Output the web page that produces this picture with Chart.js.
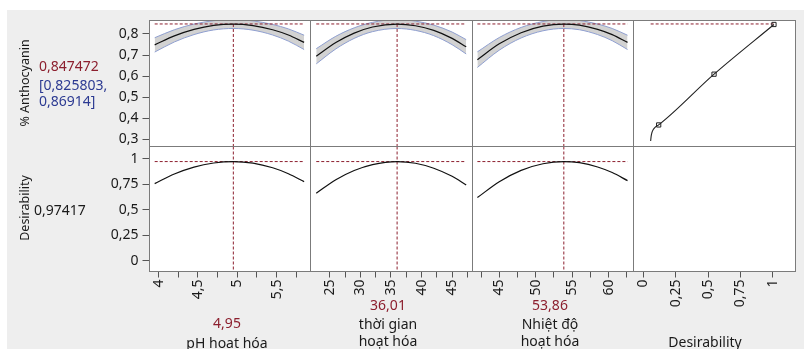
<!DOCTYPE html>
<html>
<head>
<meta charset="utf-8">
<script src="https://cdn.jsdelivr.net/npm/chart.js@4.4.0/dist/chart.umd.min.js"></script>
<style>
html,body{margin:0;padding:0;background:#fff;}
#wrap{position:relative;width:804px;height:349px;overflow:hidden;background:#fff;font-family:"Noto Sans",sans-serif;}
#bg{position:absolute;left:7px;top:10px;right:0;bottom:0;background:#eeeeee;}
#plotbg{position:absolute;left:150px;top:21px;width:645px;height:250px;background:#fff;}
canvas{position:absolute;left:0;top:0;}
.t{position:absolute;white-space:nowrap;font-size:14px;line-height:1;color:#1a1a1a;}
.c{transform:translate(-50%,-50%);}
.l{transform:translate(0,-50%);}
.r{transform:translate(-50%,-50%) rotate(-90deg);font-size:12.5px;}
</style>
</head>
<body>
<div id="wrap"><div id="bg"></div><div id="plotbg"></div></div>
<script>
// ---------- data ----------
const factorNames = [['pH hoạt hóa'], ['thời gian', 'hoạt hóa'], ['Nhiệt độ', 'hoạt hóa']];
const currentValues = [4.95, 36.01, 53.86];
const predicted = 0.847472;
const ciLow = 0.825803;
const ciHigh = 0.86914;
const desirability = 0.97417;

const respTicks = [0.3, 0.4, 0.5, 0.6, 0.7, 0.8];
const desTicks = [0, 0.25, 0.5, 0.75, 1];
const phTicks = [4, 4.5, 5, 5.5];
const phMinor = [4.25, 4.75, 5.25, 5.75];
const timeTicks = [25, 30, 35, 40, 45];
const timeMinor = [27.5, 32.5, 37.5, 42.5, 47.5];
const tempTicks = [45, 50, 55, 60];
const tempMinor = [42.5, 47.5, 52.5, 57.5, 62.5];
const desAxisTicks = [0, 0.25, 0.5, 0.75, 1];

const phX     = [3.95, 4.2, 4.45, 4.7, 4.95, 5.2, 5.45, 5.65, 5.85];
const phResp  = [0.748, 0.791, 0.822, 0.841, 0.847, 0.840, 0.820, 0.795, 0.760];
const phUpper = [0.782, 0.820, 0.847, 0.863, 0.869, 0.862, 0.845, 0.824, 0.794];
const phLower = [0.714, 0.762, 0.797, 0.819, 0.826, 0.818, 0.795, 0.766, 0.726];
const phDes   = [0.757, 0.852, 0.920, 0.960, 0.974, 0.959, 0.913, 0.855, 0.777];

const timeX     = [22.8, 26, 29, 32, 36.01, 39, 42, 45, 47.3];
const timeResp  = [0.694, 0.759, 0.804, 0.833, 0.847, 0.839, 0.817, 0.779, 0.739];
const timeUpper = [0.730, 0.789, 0.829, 0.855, 0.869, 0.861, 0.842, 0.809, 0.773];
const timeLower = [0.658, 0.729, 0.779, 0.811, 0.826, 0.817, 0.792, 0.749, 0.705];
const timeDes   = [0.663, 0.796, 0.887, 0.945, 0.974, 0.958, 0.909, 0.829, 0.744];

const tempX     = [42, 45, 48, 51, 53.86, 56, 58.5, 60.5, 62.6];
const tempResp  = [0.678, 0.753, 0.806, 0.837, 0.847, 0.842, 0.822, 0.797, 0.760];
const tempUpper = [0.715, 0.783, 0.831, 0.859, 0.869, 0.864, 0.847, 0.826, 0.794];
const tempLower = [0.641, 0.723, 0.781, 0.815, 0.826, 0.820, 0.797, 0.768, 0.726];
const tempDes   = [0.620, 0.776, 0.888, 0.953, 0.974, 0.963, 0.921, 0.866, 0.787];

const desFnD    = [0.056, 0.060, 0.066, 0.076, 0.092, 0.118, 0.546, 1.009];
const desFnResp = [0.292, 0.315, 0.332, 0.346, 0.358, 0.368, 0.609, 0.845];
const markerD    = [0.118, 0.546, 1.009];
const markerResp = [0.368, 0.609, 0.845];

// ---------- styling / layout ----------
const RED = '#8c1f2e';
const BLUE = '#2c3a92';
const TXT = '#1a1a1a';
const FONT = '"Noto Sans", sans-serif';
const colEdges = [[149.5, 310.5], [310.5, 472.5], [472.5, 633.5], [633.5, 795.5]];
const rowEdges = [[20.5, 146.5], [146.5, 271.5]];
const xRanges = [[3.884, 5.931], [21.86, 48.33], [41.33, 63.42], [-0.0765, 1.1754]];
const yRanges = [[0.2656, 0.8639], [-0.1067, 1.1224]];
const YW = 60, XH = 50;

const fmt = v => String(v).replace('.', ',');
const pts = (xs, ys) => xs.map((x, i) => ({x, y: ys[i]}));
const has = (arr, v) => arr.some(a => Math.abs(a - v) < 1e-9);

const wrap = document.getElementById('wrap');

const framePlugin = {
  id: 'frame',
  afterDatasetsDraw(chart) {
    const {ctx, chartArea: a} = chart;
    ctx.save();
    ctx.strokeStyle = '#7b7b7b';
    ctx.lineWidth = 1;
    ctx.strokeRect(a.left, a.top, a.right - a.left, a.bottom - a.top);
    ctx.restore();
  }
};

function curve(data, color, w) {
  return {data, borderColor: color, borderWidth: w, pointRadius: 0, fill: false,
          cubicInterpolationMode: 'monotone'};
}
function dashed(data) {
  return {data, borderColor: RED, borderWidth: 1, borderDash: [3, 2], pointRadius: 0,
          fill: false, tension: 0};
}

function makeChart(r, c, datasets, xMajor, xMinor, yMajor) {
  const cv = document.createElement('canvas');
  cv.width = 804; cv.height = 349;
  wrap.appendChild(cv);
  const [L, R] = colEdges[c];
  const [T, B] = rowEdges[r];
  const showY = c === 0, showX = r === 1;
  new Chart(cv, {
    type: 'line',
    data: {datasets},
    options: {
      responsive: false, animation: false, devicePixelRatio: 1,
      layout: {padding: {left: showY ? L - YW : L, right: 804 - R, top: T,
                         bottom: showX ? 349 - B - XH : 349 - B}},
      plugins: {legend: {display: false}, tooltip: {enabled: false}, title: {display: false}},
      scales: {
        x: {
          type: 'linear', display: showX, min: xRanges[c][0], max: xRanges[c][1],
          afterFit: s => { s.height = showX ? XH : 0; },
          afterBuildTicks: s => { s.ticks = xMajor.concat(xMinor).sort((a, b) => a - b).map(v => ({value: v})); },
          border: {display: false},
          grid: {drawOnChartArea: false, drawTicks: true, tickLength: 6, color: '#555'},
          ticks: {autoSkip: false, minRotation: 90, maxRotation: 90, padding: 2,
                  color: TXT, font: {family: FONT, size: 14},
                  callback: v => has(xMajor, v) ? fmt(v) : ''}
        },
        y: {
          type: 'linear', display: showY, min: yRanges[r][0], max: yRanges[r][1],
          afterFit: s => { s.width = showY ? YW : 0; },
          afterBuildTicks: s => { s.ticks = yMajor.map(v => ({value: v})); },
          border: {display: false},
          grid: {drawOnChartArea: false, drawTicks: true, tickLength: 7, color: '#555'},
          ticks: {autoSkip: false, padding: 4, color: TXT, font: {family: FONT, size: 14},
                  callback: v => fmt(v)}
        }
      }
    },
    plugins: [framePlugin]
  });
}

function respDatasets(xs, resp, up, lo, cur) {
  const yMin = yRanges[0][0];
  return [
    curve(pts(xs, resp), '#111', 1.2),
    dashed([{x: xs[0], y: predicted}, {x: xs[xs.length - 1], y: predicted}]),
    dashed([{x: cur, y: predicted}, {x: cur, y: yMin}]),
    curve(pts(xs, lo), '#8f9fd0', 1),
    Object.assign(curve(pts(xs, up), '#8f9fd0', 1), {fill: 3, backgroundColor: '#d2d2d2'})
  ];
}
function desDatasets(xs, des, cur) {
  return [
    curve(pts(xs, des), '#111', 1.2),
    dashed([{x: xs[0], y: desirability}, {x: xs[xs.length - 1], y: desirability}]),
    dashed([{x: cur, y: yRanges[1][1]}, {x: cur, y: yRanges[1][0]}])
  ];
}

const factors = [
  [phX, phResp, phUpper, phLower, phDes, phTicks, phMinor],
  [timeX, timeResp, timeUpper, timeLower, timeDes, timeTicks, timeMinor],
  [tempX, tempResp, tempUpper, tempLower, tempDes, tempTicks, tempMinor]
];
factors.forEach((f, c) => {
  const [xs, resp, up, lo, des, maj, min] = f;
  makeChart(0, c, respDatasets(xs, resp, up, lo, currentValues[c]), maj, min, respTicks);
  makeChart(1, c, desDatasets(xs, des, currentValues[c]), maj, min, desTicks);
});

// desirability function column
makeChart(0, 3, [
  {data: pts(markerD, markerResp), showLine: false, pointStyle: 'rect', pointRadius: 3,
   borderColor: '#222', borderWidth: 1, backgroundColor: 'rgba(255,255,255,0)'},
  curve(pts(desFnD, desFnResp), '#222', 1.1),
  dashed([{x: desFnD[0], y: predicted}, {x: desFnD[desFnD.length - 1], y: predicted}])
], desAxisTicks, [], respTicks);
makeChart(1, 3, [], desAxisTicks, [], desTicks);

// ---------- text ----------
function addText(txt, x, y, cls, color) {
  const d = document.createElement('div');
  d.className = 't ' + cls;
  d.textContent = txt;
  d.style.left = x + 'px';
  d.style.top = y + 'px';
  if (color) d.style.color = color;
  wrap.appendChild(d);
}
addText('% Anthocyanin', 25, 83, 'r');
addText(fmt(predicted), 39, 66, 'l', RED);
addText('[' + fmt(ciLow) + ',', 39, 85, 'l', BLUE);
addText(fmt(ciHigh) + ']', 39, 101, 'l', BLUE);
addText('Desirability', 25, 208, 'r');
addText(fmt(desirability), 34, 210, 'l');

const labelX = [227, 388, 550];
factorNames.forEach((lines, i) => {
  const n = lines.length;
  const baseY = n === 1 ? 342.5 : 341;
  addText(fmt(currentValues[i]), labelX[i], n === 1 ? 323 : 305, 'c', RED);
  lines.forEach((ln, j) => addText(ln, labelX[i], baseY - (n - 1 - j) * 17, 'c'));
});
addText('Desirability', 705, 342, 'c');
</script>
</body>
</html>
